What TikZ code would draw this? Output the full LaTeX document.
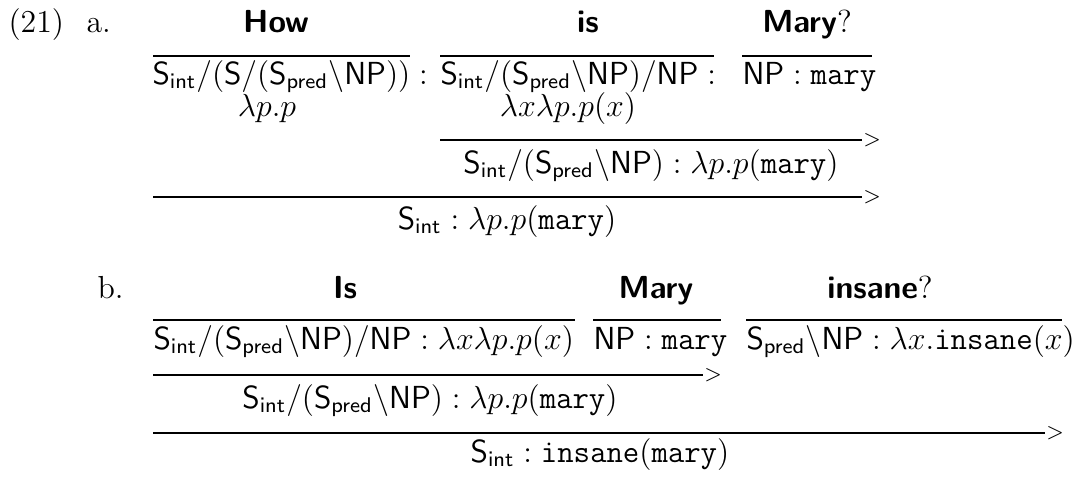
\documentclass[tikz,border=0pt]{standalone}
\begin{document}
\begin{tikzpicture}[x=0.3764pt,y=-0.3764pt,
  every node/.style={inner sep=0pt, font=\fontsize{12}{14.4}\selectfont},
  rule/.style={line width=1pt},
  comb/.style={inner sep=0pt, anchor=west, font=\fontsize{8}{9}\selectfont}]
\useasboundingbox (0,0) rectangle (1089,476);
% ---------- (a)
\node[anchor=base west] (ex) at (8,32) {(21)};
\node[anchor=base west] (la) at (86,32) {a.};
\node[anchor=base] (wHow) at (276,32) {\textsf{\bfseries How}};
\node[anchor=base] (wis) at (588,32) {\textsf{\bfseries is}};
\node[anchor=base] (wMary) at (807,32) {\textsf{\bfseries Mary}?};
\draw[rule] (153,56) -- (410,56);
\draw[rule] (440,56) -- (714,56);
\draw[rule] (742,56) -- (872,56);
\node[anchor=base west] (a1) at (152,84) {$\mathsf{S_{int}/(S/(S_{pred}\backslash NP))}:$};
\node[anchor=base west] (a2) at (440,84) {$\mathsf{S_{int}/(S_{pred}\backslash NP)/NP}:$};
\node[anchor=base west] (a3) at (742,84) {$\mathsf{NP}:\mathtt{mary}$};
\node[anchor=base] (a1s) at (267,116) {$\lambda p.p$};
\node[anchor=base] (a2s) at (568,116) {$\lambda x\lambda p.p(x)$};
\draw[rule] (440,140) -- (862,140) node[comb] (g1) {$>$};
\node[anchor=base] (a4) at (651,173) {$\mathsf{S_{int}/(S_{pred}\backslash NP)}:\lambda p.p(\mathtt{mary})$};
\draw[rule] (153,197) -- (862,197) node[comb] (g2) {$>$};
\node[anchor=base] (a5) at (507,229) {$\mathsf{S_{int}}:\lambda p.p(\mathtt{mary})$};
% ---------- (b)
\node[anchor=base west] (lb) at (97,298) {b.};
\node[anchor=base] (wIs) at (345,298) {\textsf{\bfseries Is}};
\node[anchor=base] (wMary2) at (656,298) {\textsf{\bfseries Mary}};
\node[anchor=base] (wins) at (880,298) {\textsf{\bfseries insane}?};
\draw[rule] (153,320) -- (575,320);
\draw[rule] (593,320) -- (721,320);
\draw[rule] (746,320) -- (1062,320);
\node[anchor=base west] (b1) at (153,349) {$\mathsf{S_{int}/(S_{pred}\backslash NP)/NP}:\lambda x\lambda p.p(x)$};
\node[anchor=base west] (b2) at (593,349) {$\mathsf{NP}:\mathtt{mary}$};
\node[anchor=base west] (b3) at (746,349) {$\mathsf{S_{pred}\backslash NP}:\lambda x.\mathtt{insane}(x)$};
\draw[rule] (153,375) -- (703,375) node[comb] (g3) {$>$};
\node[anchor=base] (b4) at (430,408) {$\mathsf{S_{int}/(S_{pred}\backslash NP)}:\lambda p.p(\mathtt{mary})$};
\draw[rule] (153,433) -- (1045,433) node[comb] (g4) {$>$};
\node[anchor=base] (b5) at (600,462) {$\mathsf{S_{int}}:\mathtt{insane}(\mathtt{mary})$};
\end{tikzpicture}
\end{document}
